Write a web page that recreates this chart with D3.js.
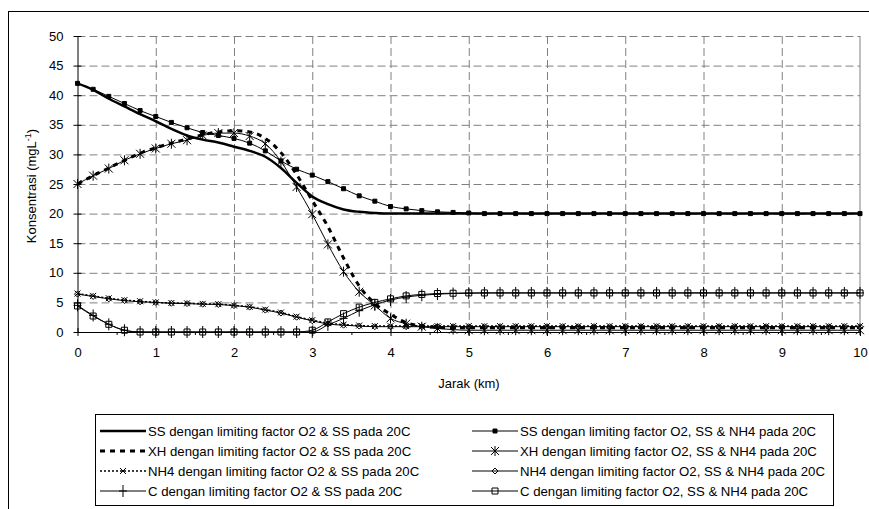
<!DOCTYPE html>
<html>
<head>
<meta charset="utf-8">
<script src="https://cdn.jsdelivr.net/npm/d3@7"></script>
<style>
body { margin: 0; background: #fff; }
text { font-family: "Liberation Sans", Arial, sans-serif; fill: #000; }
</style>
</head>
<body>
<div class="chart"></div>
<script>
// distance (km) of every computed point
var jarak = [0, 0.2, 0.4, 0.6, 0.8, 1, 1.2, 1.4, 1.6, 1.8,
    2, 2.2, 2.4, 2.6, 2.8, 3, 3.2, 3.4, 3.6, 3.8,
    4, 4.2, 4.4, 4.6, 4.8, 5, 5.2, 5.4, 5.6, 5.8,
    6, 6.2, 6.4, 6.6, 6.8, 7, 7.2, 7.4, 7.6, 7.8,
    8, 8.2, 8.4, 8.6, 8.8, 9, 9.2, 9.4, 9.6, 9.8, 10];

// limiting factor O2 & SS
var ssO2SS = [42.0, 40.9, 39.4, 38.1, 36.8, 35.6, 34.3, 33.2, 32.5, 32.0,
    31.3, 30.6, 29.6, 27.7, 25.2, 22.9, 21.6, 20.7, 20.3, 20.1,
    20.0, 20.0, 20.0, 20.0, 20.0, 20.0, 20.0, 20.0, 20.0, 20.0,
    20.0, 20.0, 20.0, 20.0, 20.0, 20.0, 20.0, 20.0, 20.0, 20.0,
    20.0, 20.0, 20.0, 20.0, 20.0, 20.0, 20.0, 20.0, 20.0, 20.0, 20.0];
var xhO2SS = [25.0, 26.4, 27.7, 29.0, 30.2, 31.1, 31.9, 32.6, 33.3, 33.8,
    34.0, 33.8, 32.7, 30.3, 26.6, 22.2, 17.8, 12.5, 7.8, 4.8,
    3.0, 1.6, 1.0, 0.8, 0.7, 0.7, 0.7, 0.7, 0.7, 0.7,
    0.7, 0.7, 0.7, 0.7, 0.7, 0.7, 0.7, 0.7, 0.7, 0.7,
    0.7, 0.7, 0.7, 0.7, 0.7, 0.7, 0.7, 0.7, 0.7, 0.7, 0.7];
var nh4O2SS = [6.5, 6.1, 5.7, 5.4, 5.2, 5.0, 4.9, 4.85, 4.75, 4.7,
    4.5, 4.25, 3.8, 3.3, 2.6, 2.0, 1.5, 1.25, 1.1, 1.0,
    1.0, 1.0, 1.0, 1.0, 1.0, 1.0, 1.0, 1.0, 1.0, 1.0,
    1.0, 1.0, 1.0, 1.0, 1.0, 1.0, 1.0, 1.0, 1.0, 1.0,
    1.0, 1.0, 1.0, 1.0, 1.0, 1.0, 1.0, 1.0, 1.0, 1.0, 1.0];
var cO2SS = [4.5, 2.8, 1.3, 0.3, 0, 0, 0, 0, 0, 0,
    0, 0, 0, 0, 0, 0, 1.2, 2.3, 3.6, 4.6,
    5.4, 5.9, 6.2, 6.4, 6.5, 6.55, 6.6, 6.6, 6.6, 6.6,
    6.6, 6.6, 6.6, 6.6, 6.6, 6.6, 6.6, 6.6, 6.6, 6.6,
    6.6, 6.6, 6.6, 6.6, 6.6, 6.6, 6.6, 6.6, 6.6, 6.6, 6.6];

// limiting factor O2, SS & NH4
var ssAll = [42.0, 41.0, 39.8, 38.6, 37.4, 36.4, 35.4, 34.5, 33.7, 33.2,
    32.7, 31.9, 30.6, 28.9, 27.5, 26.5, 25.4, 24.2, 23.0, 22.1,
    21.2, 20.8, 20.5, 20.3, 20.2, 20.1, 20.0, 20.0, 20.0, 20.0,
    20.0, 20.0, 20.0, 20.0, 20.0, 20.0, 20.0, 20.0, 20.0, 20.0,
    20.0, 20.0, 20.0, 20.0, 20.0, 20.0, 20.0, 20.0, 20.0, 20.0, 20.0];
var xhAll = [25.0, 26.4, 27.6, 29.0, 30.1, 31.0, 31.8, 32.4, 33.2, 33.6,
    33.6, 33.1, 31.8, 28.8, 24.5, 19.9, 14.8, 10.2, 6.8, 4.5,
    2.3, 1.4, 0.9, 0.6, 0.4, 0.3, 0.3, 0.3, 0.3, 0.3,
    0.3, 0.3, 0.3, 0.3, 0.3, 0.3, 0.3, 0.3, 0.3, 0.3,
    0.3, 0.3, 0.3, 0.3, 0.3, 0.3, 0.3, 0.3, 0.3, 0.3, 0.3];
var nh4All = [6.4, 6.0, 5.6, 5.3, 5.1, 5.0, 4.85, 4.8, 4.7, 4.65,
    4.45, 4.2, 3.7, 3.2, 2.5, 1.9, 1.35, 1.15, 1.0, 0.9,
    0.9, 0.9, 0.9, 0.9, 0.9, 0.9, 0.9, 0.9, 0.9, 0.9,
    0.9, 0.9, 0.9, 0.9, 0.9, 0.9, 0.9, 0.9, 0.9, 0.9,
    0.9, 0.9, 0.9, 0.9, 0.9, 0.9, 0.9, 0.9, 0.9, 0.9, 0.9];
var cAll = [4.4, 2.7, 1.3, 0.3, 0, 0, 0, 0, 0, 0,
    0, 0, 0, 0, 0, 0.3, 1.7, 3.1, 4.2, 5.0,
    5.6, 6.1, 6.35, 6.5, 6.55, 6.6, 6.6, 6.6, 6.6, 6.6,
    6.6, 6.6, 6.6, 6.6, 6.6, 6.6, 6.6, 6.6, 6.6, 6.6,
    6.6, 6.6, 6.6, 6.6, 6.6, 6.6, 6.6, 6.6, 6.6, 6.6, 6.6];

var xTicks = [0, 1, 2, 3, 4, 5, 6, 7, 8, 9, 10];
var yTicks = [0, 5, 10, 15, 20, 25, 30, 35, 40, 45, 50];

var svgWidth = 869;
var svgHeight = 509;

var svg = d3.select(".chart")
    .append("svg")
    .attr("width", svgWidth)
    .attr("height", svgHeight);

// outer chart border (runs off the bottom/right like the original)
svg.append("rect")
    .attr("x", 8.5).attr("y", 11.5)
    .attr("width", 900).attr("height", 600)
    .attr("fill", "none").attr("stroke", "#000");

var xScale = d3.scaleLinear().domain([0, 10]).range([77.5, 860]);
var yScale = d3.scaleLinear().domain([0, 50]).range([332, 36]);

var plotLeft = xScale(0), plotRight = xScale(10), plotTop = yScale(50), plotBottom = yScale(0);

// gridlines
svg.append("g")
    .attr("transform", `translate(${plotLeft},0)`)
    .call(d3.axisLeft(yScale).tickValues(yTicks.slice(1)).tickSize(-(plotRight - plotLeft)).tickFormat(""))
    .call(g => g.select(".domain").remove())
    .selectAll("line")
    .attr("stroke", "#808080")
    .attr("stroke-dasharray", "8,4");

svg.append("g")
    .attr("transform", `translate(0,${plotBottom})`)
    .call(d3.axisBottom(xScale).tickValues(xTicks.slice(1, -1)).tickSize(-(plotBottom - plotTop)).tickFormat(""))
    .call(g => g.select(".domain").remove())
    .selectAll("line")
    .attr("stroke", "#808080")
    .attr("stroke-dasharray", "8,4");

svg.append("line")
    .attr("x1", plotRight).attr("x2", plotRight)
    .attr("y1", plotTop).attr("y2", plotBottom)
    .attr("stroke", "#808080");

// axes
var yAxis = svg.append("g")
    .attr("transform", `translate(${plotLeft},0)`)
    .call(d3.axisLeft(yScale).tickValues(yTicks).tickSize(4).tickPadding(10).tickSizeOuter(0));
yAxis.selectAll(".tick line").attr("x2", -4).attr("x1", 4);

var xAxis = svg.append("g")
    .attr("transform", `translate(0,${plotBottom})`)
    .call(d3.axisBottom(xScale).tickValues(xTicks).tickSize(4).tickPadding(12).tickSizeOuter(0));
xAxis.selectAll(".tick line").attr("y1", -4).attr("y2", 4);

// minor ticks on the x axis
var minorX = xTicks.slice(0, -1).map(d => d + 0.5);
svg.append("g")
    .attr("transform", `translate(0,${plotBottom})`)
    .call(d3.axisBottom(xScale).tickValues(minorX).tickSize(3).tickFormat("").tickSizeOuter(0))
    .call(g => g.select(".domain").remove());

svg.selectAll(".domain").attr("stroke", "#000");
svg.selectAll(".tick text")
    .style("font-family", "'Liberation Sans', Arial, sans-serif")
    .style("font-size", "13px");

// axis titles
svg.append("text")
    .attr("x", 469).attr("y", 388)
    .attr("text-anchor", "middle")
    .style("font-size", "13px")
    .text("Jarak (km)");

var yTitle = svg.append("text")
    .attr("transform", "translate(36,186) rotate(-90)")
    .attr("text-anchor", "middle")
    .style("font-size", "13px");
yTitle.append("tspan").text("Konsentrasi (mgL");
yTitle.append("tspan").attr("dy", -5).style("font-size", "9px").text("-1");
yTitle.append("tspan").attr("dy", 5).text(")");

// markers
function markerPath(type) {
    if (type === "square") return "M-2,-2h4v4h-4z";
    if (type === "opensquare") return "M-3,-3h6v6h-6z";
    if (type === "diamond") return "M0,-3L3,0L0,3L-3,0Z";
    if (type === "x") return "M-3,-3L3,3M-3,3L3,-3";
    if (type === "asterisk") return "M-4,-4L4,4M-4,4L4,-4M0,-5V5";
    if (type === "plus") return "M-4,0H4M0,-6V6";
    return "";
}

var series = [
    { name: "SS dengan limiting factor O2 & SS pada 20C", values: ssO2SS, width: 2.5, dash: null, marker: null },
    { name: "SS dengan limiting factor O2, SS & NH4 pada 20C", values: ssAll, width: 1, dash: null, marker: "square" },
    { name: "XH dengan limiting factor O2 & SS pada 20C", values: xhO2SS, width: 3, dash: "5,5", marker: null },
    { name: "XH dengan limiting factor O2, SS & NH4 pada 20C", values: xhAll, width: 1, dash: null, marker: "asterisk" },
    { name: "NH4 dengan limiting factor O2 & SS pada 20C", values: nh4O2SS, width: 1.5, dash: "2,2", marker: "x" },
    { name: "NH4 dengan limiting factor O2, SS & NH4 pada 20C", values: nh4All, width: 1, dash: null, marker: "diamond" },
    { name: "C dengan limiting factor O2 & SS pada 20C", values: cO2SS, width: 1, dash: null, marker: "plus" },
    { name: "C dengan limiting factor O2, SS & NH4 pada 20C", values: cAll, width: 1, dash: null, marker: "opensquare" }
];

var line = d3.line()
    .x((d, i) => xScale(jarak[i]))
    .y(d => yScale(d))
    .curve(d3.curveMonotoneX);

function styleMarker(sel, s) {
    sel.attr("d", markerPath(s.marker))
        .attr("fill", s.marker === "square" ? "#000" : "none")
        .attr("stroke", "#000")
        .attr("stroke-width", 1);
}

series.forEach(function (s) {
    var g = svg.append("g");
    g.append("path")
        .datum(s.values)
        .attr("d", line)
        .attr("fill", "none")
        .attr("stroke", "#000")
        .attr("stroke-width", s.width)
        .attr("stroke-dasharray", s.dash);
    if (s.marker) {
        g.selectAll("path.m")
            .data(s.values)
            .enter()
            .append("path")
            .attr("class", "m")
            .attr("transform", (d, i) => `translate(${xScale(jarak[i])},${yScale(d)})`)
            .call(styleMarker, s);
    }
});

// legend
var legend = svg.append("g");
legend.append("rect")
    .attr("x", 95.5).attr("y", 414.5)
    .attr("width", 738).attr("height", 91)
    .attr("fill", "#fff").attr("stroke", "#000");

var colX = [100, 472];
var rowY = [431, 451, 471, 491];

series.forEach(function (s, i) {
    var cx = colX[i % 2], cy = rowY[Math.floor(i / 2)];
    var item = legend.append("g").attr("transform", `translate(${cx},${cy})`);
    item.append("line")
        .attr("x1", 0).attr("x2", 46)
        .attr("stroke", "#000")
        .attr("stroke-width", s.width)
        .attr("stroke-dasharray", s.dash);
    if (s.marker) {
        item.append("path")
            .attr("transform", "translate(23,0)")
            .call(styleMarker, s);
    }
    item.append("text")
        .attr("x", 48).attr("y", 4.5)
        .style("font-size", "13.2px")
        .text(s.name);
});
</script>
</body>
</html>
